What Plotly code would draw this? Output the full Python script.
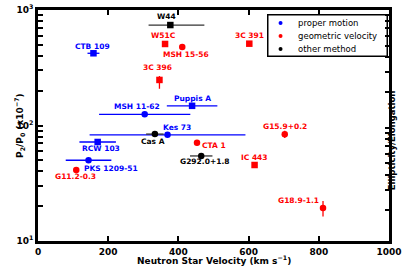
import numpy as np
import plotly.graph_objects as go

# ---------------- data ----------------
names   = ["CTB 109", "Puppis A", "MSH 11-62", "Kes 73", "RCW 103", "PKS 1209-51",
           "W51C", "MSH 15-56", "3C 391", "3C 396", "CTA 1", "IC 443", "G15.9+0.2",
           "G18.9-1.1", "G11.2-0.3",
           "W44", "Cas A", "G292.0+1.8"]
method  = ["pm"] * 6 + ["geo"] * 9 + ["other"] * 3
velocity = [158, 439, 304, 369, 170, 144,
            362, 411, 602, 346, 453, 617, 703, 812, 109,
            377, 333, 465]
vel_err_plus  = [17, 72, 130, 222, 52, 65,
                 0, 0, 0, 0, 0, 0, 0, 0, 0,
                 97, 25, 32]
vel_err_minus = [17, 72, 130, 222, 52, 65,
                 0, 0, 0, 0, 0, 0, 0, 0, 0,
                 62, 25, 32]
p2p0 = [422, 148, 125, 83, 72, 50,
        508, 478, 511, 248, 71, 45.5, 84, 19.3, 41.2,
        741, 84.3, 54.5]
p_err_plus  = [0, 0, 0, 0, 0, 0,
               0, 0, 0, 20, 4, 0, 6, 2.9, 0,
               0, 0, 0]
p_err_minus = [0, 0, 0, 0, 0, 0,
               0, 0, 0, 40, 4, 0, 6, 3.0, 0,
               0, 0, 0]
shape = ["square", "square", "circle", "circle", "square", "circle",
         "square", "circle", "square", "square", "circle", "square", "circle",
         "circle", "circle",
         "square", "circle", "circle"]

# label offsets in pixels (dx right, dy up)
label_dx = [-1, 0, -8, 9, 3, 22,
            -2, 4, 0, -2, 17, 0, 0, -25, -1,
            -4, -2, 3]
label_dy = [7, 7.5, 7.6, 7.3, -7, -8.7,
            8, -7, 8, 12, -3, 8, 7.5, 8, -7,
            9, -7, -6]

x_ticks = [0, 200, 400, 600, 800, 1000]
methods = ["pm", "geo", "other"]
legend_names = {"pm": "proper motion", "geo": "geometric velocity", "other": "other method"}
colors = {"pm": "#0000ff", "geo": "#ff0000", "other": "#000000"}
err_colors = {"pm": "#0000ff", "geo": "#ff0000", "other": "#333333"}

FONT = "DejaVu Sans"

fig = go.Figure()

for m in methods:
    idx = [i for i, mm in enumerate(method) if mm == m]
    fig.add_trace(go.Scatter(
        x=[velocity[i] for i in idx],
        y=[p2p0[i] for i in idx],
        mode="markers", name=legend_names[m],
        marker=dict(color=colors[m], size=6.5,
                    symbol=[shape[i] for i in idx], line=dict(width=0)),
        error_x=dict(type="data", symmetric=False,
                     array=[vel_err_plus[i] for i in idx],
                     arrayminus=[vel_err_minus[i] for i in idx],
                     color=err_colors[m], thickness=1.3, width=0),
        error_y=dict(type="data", symmetric=False,
                     array=[p_err_plus[i] for i in idx],
                     arrayminus=[p_err_minus[i] for i in idx],
                     color=err_colors[m], thickness=1.3, width=0),
        showlegend=False, hoverinfo="skip"))

# dummy trace for secondary axis
fig.add_trace(go.Scatter(x=[None], y=[None], yaxis="y2", showlegend=False, hoverinfo="skip"))

# manual legend box (as an annotation frame)
leg_left_px, leg_top_px, leg_w, leg_h = 267, 14, 121, 43
fig.add_annotation(xref="paper", yref="paper",
                   x=(leg_left_px - 38) / 351, y=1 - (leg_top_px - 10) / 231,
                   xanchor="left", yanchor="top", text="", showarrow=False,
                   width=leg_w - 3, height=leg_h - 3, borderwidth=1.5, bordercolor="black",
                   bgcolor="rgba(0,0,0,0)", borderpad=0)

# point labels
for i, n in enumerate(names):
    fig.add_annotation(x=velocity[i], y=np.log10(p2p0[i]), xref="x", yref="y",
                       text="<b>" + n + "</b>", showarrow=False,
                       xshift=label_dx[i], yshift=label_dy[i],
                       font=dict(family=FONT, size=7.5, color=colors[method[i]]))

# legend dots and texts
dot_x, txt_x = 0.691, 0.735
row_y = [0.944, 0.887, 0.831]
for k, m in enumerate(methods):
    fig.add_shape(type="circle", xref="paper", yref="paper", xsizemode="pixel", ysizemode="pixel",
                  xanchor=dot_x, yanchor=row_y[k], x0=-2, x1=2, y0=-2, y1=2,
                  fillcolor=colors[m], line=dict(width=0), layer="above")
    fig.add_annotation(xref="paper", yref="paper", x=txt_x, y=row_y[k], xanchor="left", yanchor="middle",
                       text=legend_names[m], showarrow=False, font=dict(family=FONT, size=8.5))

# y ticks (log minor ticks)
y_tickvals = [v * 10 ** d for d in [1, 2] for v in range(1, 10)] + [1000]
y_ticktext = ["<b>10<sup>%d</sup></b>" % int(round(np.log10(v))) if v in (10, 100, 1000) else "" for v in y_tickvals]
y2_tickvals = sorted(set([v * 10 ** d for d in [-1, 0] for v in range(2, 10)] + [1, 10]))

fig.update_layout(
    width=407, height=272,
    margin=dict(l=38, r=18, t=10, b=31, autoexpand=False),
    paper_bgcolor="white", plot_bgcolor="white",
    font=dict(family=FONT, size=9, color="black"),
    showlegend=False,
    xaxis=dict(range=[0, 1000], tickvals=x_ticks,
               ticktext=["<b>%d</b>" % v for v in x_ticks],
               ticks="inside", ticklen=5, tickwidth=2, tickcolor="black",
               showline=True, linewidth=2.5, linecolor="black", mirror="ticks",
               showgrid=False, zeroline=False, tickfont=dict(size=9), automargin=False),
    yaxis=dict(type="log", range=[1, 3], tickvals=y_tickvals, ticktext=y_ticktext,
               ticks="inside", ticklen=5, tickwidth=1.5, tickcolor="black",
               showline=True, linewidth=2.5, linecolor="black", mirror=False,
               showgrid=False, zeroline=False, tickfont=dict(size=9), automargin=False),
    yaxis2=dict(type="log", range=[-0.958, 1.0], overlaying="y", side="right",
                tickvals=y2_tickvals, showticklabels=False,
                ticks="inside", ticklen=4, tickwidth=1.5, tickcolor="black",
                showline=True, linewidth=2.5, linecolor="black",
                showgrid=False, zeroline=False, automargin=False),
)

# axis titles
fig.add_annotation(xref="paper", yref="paper", x=0.5, y=-0.082, yanchor="middle",
                   text="<b>Neutron Star Velocity (km s<sup>−1</sup>)</b>", showarrow=False,
                   font=dict(family=FONT, size=9))
fig.add_annotation(xref="paper", yref="paper", x=-0.077, y=0.5, textangle=-90,
                   text="<b>P<sub>2</sub>/P<sub>0</sub> (x10<sup>−7</sup>)</b>", showarrow=False,
                   font=dict(family=FONT, size=9))
fig.add_annotation(xref="paper", yref="paper", x=1.029, y=0.437, textangle=-90,
                   text="<b>Ellipticity/Elongation</b>", showarrow=False,
                   font=dict(family=FONT, size=8.5))

fig.write_html("out.html", config={"displayModeBar": False},
               post_script="document.body.style.margin='0';document.body.style.overflow='hidden';")
